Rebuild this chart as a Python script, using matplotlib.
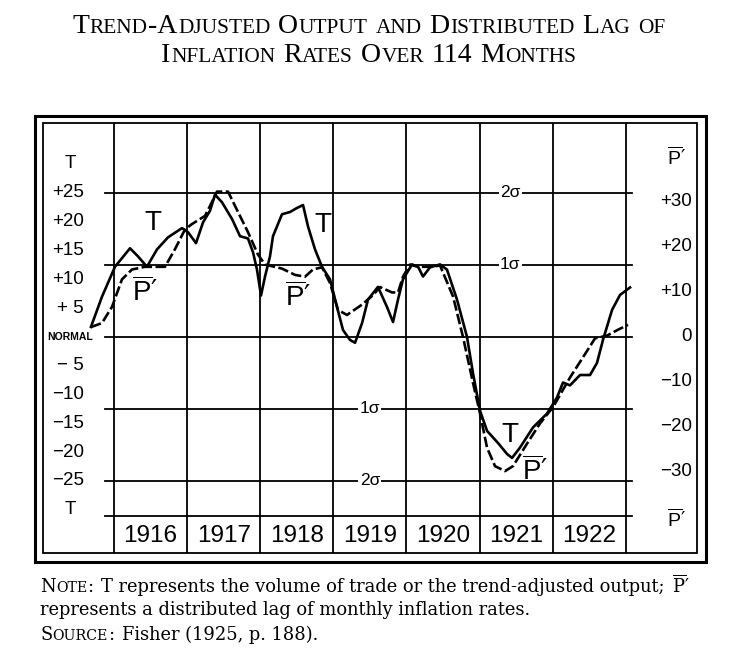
import matplotlib
matplotlib.use("Agg")
import matplotlib.pyplot as plt
from matplotlib.patches import Rectangle

# ---- data (x in years, T in T units, P' in P' units) ----
t_year = [1915.685, 1915.836, 1916.014, 1916.219, 1916.328, 1916.451, 1916.588, 1916.739,
          1916.930, 1917.012, 1917.122, 1917.218, 1917.313, 1917.382, 1917.477, 1917.614,
          1917.724, 1917.833, 1917.902, 1917.956, 1918.011, 1918.066, 1918.134, 1918.175,
          1918.298, 1918.408, 1918.503, 1918.586, 1918.654, 1918.750, 1918.845, 1918.955,
          1919.051, 1919.133, 1919.228, 1919.297, 1919.393, 1919.475, 1919.611, 1919.735,
          1919.817, 1919.885, 1919.953, 1920.077, 1920.159, 1920.227, 1920.323, 1920.460,
          1920.555, 1920.692, 1920.829, 1920.911, 1921.007, 1921.103, 1921.253, 1921.376,
          1921.445, 1921.554, 1921.732, 1921.923, 1922.060, 1922.142, 1922.238, 1922.375,
          1922.512, 1922.607, 1922.689, 1922.813, 1922.922, 1923.059]
t_val = [1.75, 7.0, 12.2, 15.4, 14.0, 12.2, 15.2, 17.3,
         18.9, 18.2, 16.3, 19.9, 21.9, 24.7, 23.4, 20.5,
         17.5, 17.1, 14.7, 11.7, 7.2, 10.5, 14.0, 17.5,
         21.3, 21.7, 22.4, 22.9, 19.2, 15.2, 12.2, 10.0,
         5.2, 1.2, -0.5, -1.0, 2.4, 6.5, 8.7, 5.2,
         2.6, 6.5, 10.0, 12.6, 12.2, 10.5, 12.1, 12.6,
         11.7, 6.5, 0.0, -6.3, -12.8, -16.3, -18.4, -20.3,
         -21.0, -19.2, -15.7, -13.3, -10.5, -7.9, -8.4, -6.6,
         -6.6, -4.5, -0.5, 4.7, 7.3, 8.6]

p_year = [1915.685, 1915.836, 1915.973, 1916.109, 1916.246, 1916.424, 1916.698, 1916.834,
          1916.971, 1917.067, 1917.245, 1917.313, 1917.409, 1917.560, 1917.696, 1917.833,
          1917.970, 1918.066, 1918.298, 1918.476, 1918.613, 1918.722, 1918.845, 1918.955,
          1919.064, 1919.187, 1919.393, 1919.543, 1919.639, 1919.803, 1919.885, 1919.953,
          1920.049, 1920.159, 1920.350, 1920.460, 1920.638, 1920.774, 1920.911, 1921.007,
          1921.103, 1921.212, 1921.349, 1921.458, 1921.650, 1921.828, 1922.005, 1922.238,
          1922.416, 1922.580, 1922.744, 1922.881, 1923.031]
p_val = [2.2, 3.1, 6.7, 12.8, 15.0, 15.6, 15.6, 19.5,
         23.9, 25.1, 26.9, 29.1, 32.3, 32.3, 27.8, 23.3,
         18.3, 16.1, 15.2, 13.8, 13.4, 15.0, 15.5, 12.0,
         6.0, 4.9, 7.2, 9.3, 11.1, 9.9, 9.9, 13.4,
         16.1, 15.6, 15.6, 15.9, 9.0, 0.0, -10.2, -17.0,
         -24.6, -28.7, -29.8, -28.7, -23.7, -19.2, -15.6, -9.0,
         -4.5, -0.3, 0.3, 1.5, 2.7]

years = [1916, 1917, 1918, 1919, 1920, 1921, 1922]
t_ticks = [25, 20, 15, 10, 5, 0, -5, -10, -15, -20, -25]
t_labels = ["+25", "+20", "+15", "+10", "+ 5", "NORMAL", "\u2212 5", "\u221210",
            "\u221215", "\u221220", "\u221225"]
p_ticks = [30, 20, 10, 0, -10, -20, -30]
p_labels = ["+30", "+20", "+10", "0", "\u221210", "\u221220", "\u221230"]
sigma_levels = [25, 12.5, -12.5, -25]
sigma_labels = ["2\u03c3", "1\u03c3", "1\u03c3", "2\u03c3"]

W, H, DPI = 733, 669, 100
SANS = "Liberation Sans"
plt.rcParams["mathtext.fontset"] = "custom"
plt.rcParams["mathtext.rm"] = "Liberation Sans"
plt.rcParams["mathtext.sf"] = "Liberation Sans"
PBAR = "$\\overline{\\mathrm{P}}$\u2032"

fig = plt.figure(figsize=(W / DPI, H / DPI), dpi=DPI)


def fx(px):
    return px / W


def fy(py):
    return 1 - py / H


# frame: outer and inner border
fig.add_artist(Rectangle((fx(35), fy(562)), (706 - 35) / W, (562 - 116) / H,
                         fill=False, lw=2.2, ec="black"))
fig.add_artist(Rectangle((fx(43), fy(553)), (697 - 43) / W, (553 - 123) / H,
                         fill=False, lw=1.3, ec="black"))

ax = fig.add_axes([fx(43), fy(553), (697 - 43) / W, (553 - 123) / H])
ax.set_xlim(1915.029, 1923.975)
ax.set_ylim(-37.5, 37.15)
ax.axis("off")

ax2 = ax.twinx()
ax2.set_ylim(-37.5 * 1.28, 37.15 * 1.28)
ax2.axis("off")

# grid
for y in [25, 12.5, 0, -12.5, -25, -31.1]:
    ax.plot([1915.877, 1923.09], [y, y], color="black", lw=1.3)
for yr in years + [1923]:
    ax.plot([yr, yr], [-37.5, 37.15], color="black", lw=1.3)

for yr in years:
    ax.text(yr + 0.5, -34.5, str(yr), ha="center", va="center", fontsize=17.5, family=SANS)

for lv, lb, xx in zip(sigma_levels, sigma_labels, [1921.42, 1921.42, 1919.50, 1919.50]):
    ax.text(xx, lv, lb, ha="center", va="center", fontsize=12.5, family=SANS,
            bbox=dict(fc="white", ec="none", pad=1))

# curves
ax.plot(t_year, t_val, color="black", lw=1.9, solid_joinstyle="round")
ax2.plot(p_year, p_val, color="black", lw=1.9, linestyle=(0, (4, 1.3)))

# left scale
for v, lb in zip(t_ticks, t_labels):
    if lb == "NORMAL":
        ax.text(1915.71, v, lb, ha="right", va="center", fontsize=7.5,
                family=SANS, weight="bold")
    else:
        ax.text(1915.59, v, lb, ha="right", va="center", fontsize=13.5, family=SANS)
ax.text(1915.40, 30.2, "T", ha="center", va="center", fontsize=13.5, family=SANS)
ax.text(1915.40, -30.0, "T", ha="center", va="center", fontsize=13.5, family=SANS)

# right scale
for v, lb in zip(p_ticks, p_labels):
    ax2.text(1923.907, v, lb, ha="right", va="center", fontsize=13.5, family=SANS)
ax2.text(1923.70, 40.0, PBAR, ha="center", va="center", fontsize=14)
ax2.text(1923.70, -40.5, PBAR, ha="center", va="center", fontsize=14)

# curve labels
for xx, yy in [(1916.53, 19.8), (1918.86, 19.4), (1921.42, -17.0)]:
    ax.text(xx, yy, "T", ha="center", va="center", fontsize=20, family=SANS)
for xx, yy in [(1916.42, 7.8), (1918.52, 6.9), (1921.76, -23.4)]:
    ax.text(xx, yy, PBAR, ha="center", va="center", fontsize=20)


# text laid out in runs (small caps and mixed pieces)
renderer = fig.canvas.get_renderer()


def caps_tokens(s, big, small):
    toks = []
    for i, word in enumerate(s.split(" ")):
        if i:
            toks.append((None, big))
        run, low = "", None
        for ch in word:
            is_low = ch.islower()
            if low is not None and is_low != low:
                toks.append((run, small if low else big))
                run = ""
            run += ch.upper()
            low = is_low
        toks.append((run, small if low else big))
    return toks


def draw_runs(x_px, y_px, toks, family, ha="left", space=0.26):
    placed = []
    cur = 0.0
    for tok, size in toks:
        if tok is None:
            cur += size * DPI / 72 * space
            continue
        t = fig.text(0, fy(y_px), tok, fontsize=size, family=family,
                     ha="left", va="baseline", math_fontfamily="dejavuserif")
        placed.append((t, cur))
        cur += t.get_window_extent(renderer).width + size * 0.03
    start = x_px - cur / 2 if ha == "center" else x_px
    for t, off in placed:
        t.set_x(fx(start + off))


SERIF_T = "Liberation Serif"
draw_runs(369, 33, caps_tokens("Trend-Adjusted Output and Distributed Lag of", 20, 15.4),
          SERIF_T, ha="center")
draw_runs(369, 62, caps_tokens("Inflation Rates Over 114 Months", 20, 15.4),
          SERIF_T, ha="center")

NOTE_F = "DejaVu Serif"
NS, NSM = 12.9, 10.2
note1 = caps_tokens("Note:", NS, NSM) + [(None, NS),
        ("T represents the volume of trade or the trend-adjusted output;", NS),
        (None, NS), ("$\\overline{\\mathrm{P}}$\u2032", NS)]
draw_runs(40, 592, note1, NOTE_F, space=0.4)
draw_runs(40, 615, [("represents a distributed lag of monthly inflation rates.", NS)], NOTE_F)
draw_runs(40, 640, caps_tokens("Source:", NS, NSM) + [(None, NS),
          ("Fisher (1925, p. 188).", NS)], NOTE_F, space=0.4)

fig.savefig("out.png", dpi=DPI)
